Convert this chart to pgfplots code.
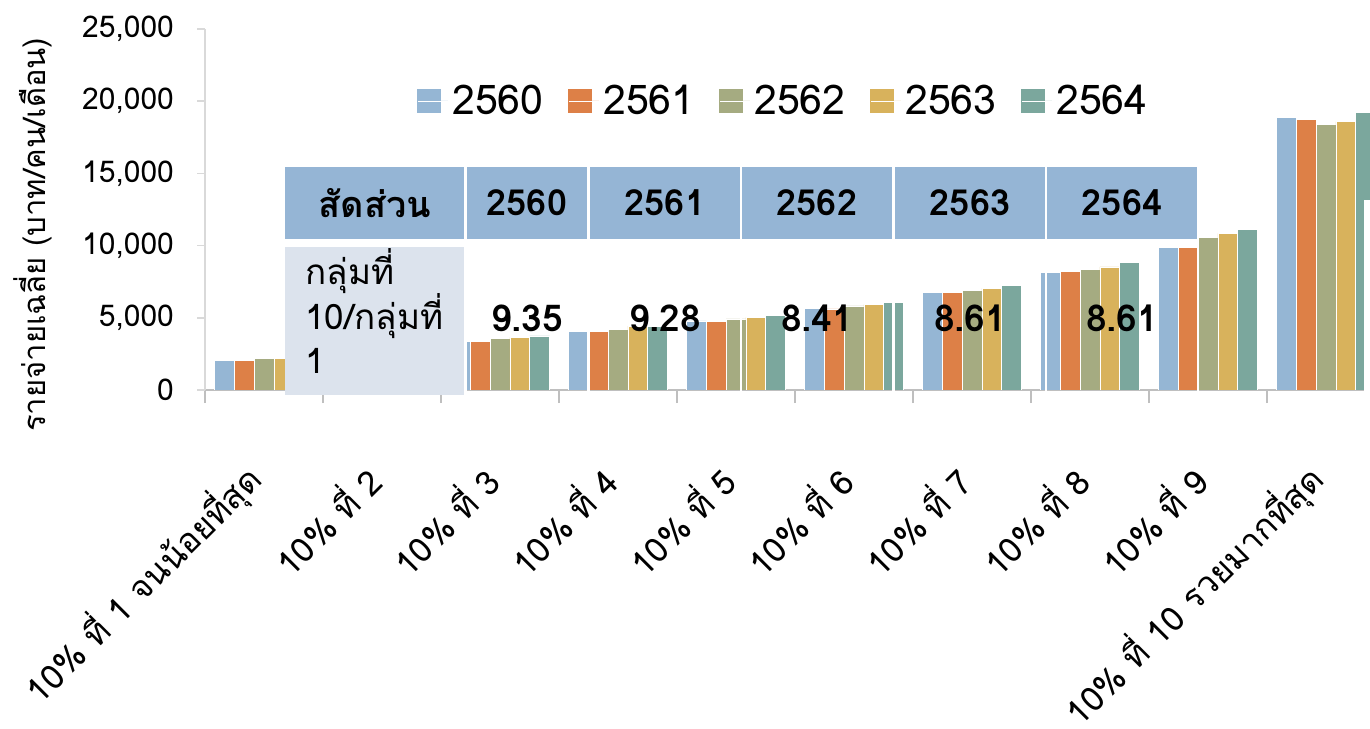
\documentclass[border=0pt]{standalone}
\usepackage{fontspec}
\setmainfont[Script=Thai]{Loma}
\usepackage{pgfplots}
\pgfplotsset{compat=1.18}
\definecolor{cA}{HTML}{95B6D4}
\definecolor{cB}{HTML}{DD8047}
\definecolor{cC}{HTML}{A5AB81}
\definecolor{cD}{HTML}{D8B25C}
\definecolor{cE}{HTML}{7BA79D}
\definecolor{hdr}{HTML}{95B5D5}
\definecolor{cell}{HTML}{DCE3ED}
\newcommand{\fs}[1]{\fontsize{#1}{#1}\selectfont}
\begin{document}
\begin{tikzpicture}[x=0.5pt,y=0.5pt]
\useasboundingbox (0,0) rectangle (1370,728);
\begin{axis}[
  at={(102.5pt,169pt)}, anchor=south west,
  width=590pt, height=180.5pt, scale only axis,
  xmin=-0.5, xmax=9.5, ymin=0, ymax=25000,
  ybar=0pt, bar width=9.9pt,
  axis x line*=bottom, axis y line*=left,
  x axis line style={-, draw=black!25, line width=1.2pt},
  y axis line style={-, draw=black!15, line width=0.8pt},
  xtick={0,...,9},
  xticklabels={10\% ที่ 1 จนน้อยที่สุด,10\% ที่ 2,10\% ที่ 3,10\% ที่ 4,10\% ที่ 5,10\% ที่ 6,10\% ที่ 7,10\% ที่ 8,10\% ที่ 9,10\% ที่ 10 รวยมากที่สุด},
  minor xtick={-0.5,0.5,...,9.5},
  major x tick style={draw=none},
  minor x tick style={draw=black!25, line width=1pt},
  tick align=outside, major tick length=4pt, minor tick length=6.5pt,
  ytick={0,5000,...,25000},
  y tick style={draw=black!15, line width=0.8pt},
  scaled y ticks=false,
  yticklabel style={font=\fs{15}, xshift=-8pt},
  xticklabel style={font=\fs{17}, xshift=-2pt, yshift=-35pt, rotate=45, anchor=east},
  ylabel={รายจ่ายเฉลี่ย (บาท/คน/เดือน)},
  every axis y label/.style={at={(axis description cs:-0.146,0.43)}, rotate=90, anchor=center, font=\fs{15.5}},
  legend style={at={(axis description cs:0.1797,0.8006)}, anchor=west, draw=none, fill=none,
    legend columns=5, font=\fs{20.5}, inner sep=0pt,
    /tikz/every even column/.append style={column sep=10.5pt}},
  /pgf/number format/1000 sep={,}, /pgf/number format/assume math mode=true,
]
\addplot[fill=cA, draw=white, line width=0.4pt, legend image code/.code={\fill[cA] (0pt,-5.75pt) rectangle (11.5pt,5.75pt); \path (0pt,0pt) -- (15pt,0pt);}] coordinates {(0,2021) (1,3000) (2,3390) (3,4040) (4,4780) (5,5630) (6,6740) (7,8150) (8,9870) (9,18900)};
\addplot[fill=cB, draw=white, line width=0.4pt, legend image code/.code={\fill[cB] (0pt,-5.75pt) rectangle (11.5pt,5.75pt); \path (0pt,0pt) -- (15pt,0pt);}] coordinates {(0,2023) (1,3020) (2,3390) (3,4040) (4,4730) (5,5610) (6,6760) (7,8240) (8,9870) (9,18740)};
\addplot[fill=cC, draw=white, line width=0.4pt, legend image code/.code={\fill[cC] (0pt,-5.75pt) rectangle (11.5pt,5.75pt); \path (0pt,0pt) -- (15pt,0pt);}] coordinates {(0,2190) (1,3150) (2,3580) (3,4220) (4,4920) (5,5820) (6,6900) (7,8360) (8,10570) (9,18420)};
\addplot[fill=cD, draw=white, line width=0.4pt, legend image code/.code={\fill[cD] (0pt,-5.75pt) rectangle (11.5pt,5.75pt); \path (0pt,0pt) -- (15pt,0pt);}] coordinates {(0,2156) (1,3200) (2,3650) (3,4430) (4,5030) (5,5930) (6,7040) (7,8520) (8,10850) (9,18580)};
\addplot[fill=cE, draw=white, line width=0.4pt, legend image code/.code={\fill[cE] (0pt,-5.75pt) rectangle (11.5pt,5.75pt); \path (0pt,0pt) -- (15pt,0pt);}] coordinates {(0,2228) (1,3300) (2,3740) (3,4430) (4,5170) (5,6090) (6,7270) (7,8820) (8,11130) (9,19200)};
\legend{2560,2561,2562,2563,2564}
\end{axis}
% table overlay
\fill[hdr] (285,561) rectangle (464,489);
\fill[hdr] (467,561) rectangle (587,489);
\fill[hdr] (590,561) rectangle (740,489);
\fill[hdr] (742,561) rectangle (892,489);
\fill[hdr] (895,561) rectangle (1045,489);
\fill[hdr] (1047,561) rectangle (1197,489);
\fill[cell] (285,481) rectangle (464,333);
\foreach \xx in {465.5,588.5,741,893.5,1046,1198}{\draw[white, line width=1.25pt] (\xx,489) -- (\xx,333);}
\fill[white] (1364,528) rectangle (1375,318);
\foreach \xx/\tt in {375/สัดส่วน,527/2560,665/2561,817/2562,970/2563,1122/2564}{\node[font=\fs{18}\bfseries] at (\xx,525) {\tt};}
\foreach \xx/\tt in {527/9.35,665/9.28,817/8.41,970/8.61,1122/8.61}{\node[font=\fs{18.5}\bfseries] at (\xx,410) {\tt};}
\node[anchor=base west, font=\fs{17.5}, inner sep=0pt] at (305,443) {กลุ่มที่};
\node[anchor=base west, font=\fs{17.5}, inner sep=0pt] at (305,398) {10/กลุ่มที่};
\node[anchor=base west, font=\fs{17.5}, inner sep=0pt] at (305,354) {1};
\end{tikzpicture}
\end{document}
